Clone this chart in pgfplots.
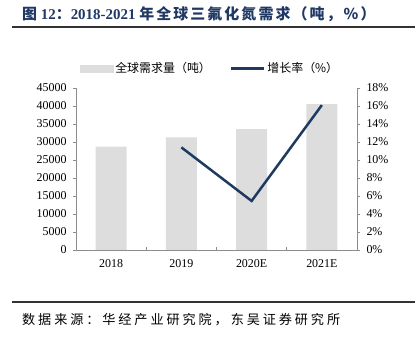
\documentclass[border=0pt]{standalone}
\usepackage{fontspec}
\setmainfont{Liberation Serif}
\newfontfamily\cjk{Noto Sans CJK SC}
\newfontfamily\cjksp[LetterSpace=22]{Noto Sans CJK SC}
\newfontfamily\cjkt[LetterSpace=14]{Noto Sans CJK SC}
\usepackage{pgfplots}
\pgfplotsset{compat=1.18}
\definecolor{titlec}{HTML}{1F3864}
\definecolor{barc}{HTML}{DDDDDD}
\definecolor{linec}{HTML}{1F3A60}
\definecolor{axc}{HTML}{8C8C8C}
\begin{document}
\begin{tikzpicture}[x=1bp,y=1bp]
\path[use as bounding box] (0,0) rectangle (418,338);
\node[anchor=west, inner sep=0, text=titlec, font=\bfseries\fontsize{15}{15}\selectfont] at (22,324) {{\cjkt 图} 12{\cjkt ：}2018-2021 {\cjkt 年全球三氟化氮需求（吨，\%）}};
\draw[line width=1.5bp, black!80] (12,311) -- (415,311);
\draw[line width=1.2bp, black!80] (12,36) -- (415,36);
\node[anchor=west, inner sep=0, font=\fontsize{13.2}{13.2}\selectfont] at (22,18) {\cjksp 数据来源：华经产业研究院，东吴证券研究所};

\begin{axis}[at={(76bp,88bp)}, anchor=south west, width=281bp, height=162bp, scale only axis,
  xmin=-0.5, xmax=3.5, ymin=0, ymax=45000,
  axis x line*=bottom, axis y line*=left,
  axis line style={draw=axc, line width=0.6bp},
  tick align=outside, tick style={draw=axc, line width=0.6bp}, major tick length=3bp, minor tick length=3bp,
  xtick={0,1,2,3}, xticklabels={2018,2019,2020E,2021E},
  major x tick style={draw=none},
  minor xtick={0.5,1.5,2.5}, minor x tick style={yshift=3bp},
  scaled y ticks=false,
  ytick={0,5000,...,45000},
  yticklabels={0,5000,10000,15000,20000,25000,30000,35000,40000,45000},
  ticklabel style={font=\fontsize{12}{12}\selectfont},
  yticklabel style={xshift=-3bp},
  xticklabel style={yshift=-3bp},
]
\addplot[ybar, fill=barc, draw=none, bar width=31bp] coordinates {(0,28700) (1,31300) (2,33600) (3,40500)};
\end{axis}

\begin{axis}[at={(76bp,88bp)}, anchor=south west, width=281bp, height=162bp, scale only axis,
  xmin=-0.5, xmax=3.5, ymin=0, ymax=18,
  axis x line=none, axis y line*=right,
  axis line style={draw=axc, line width=0.6bp},
  tick align=outside, tick style={draw=axc, line width=0.6bp}, major tick length=3bp,
  ytick={0,2,...,18},
  yticklabels={0\%,2\%,4\%,6\%,8\%,10\%,12\%,14\%,16\%,18\%},
  ticklabel style={font=\fontsize{12}{12}\selectfont},
  yticklabel style={xshift=3bp},
  legend style={at={(0.477,1.12)}, anchor=center, draw=none, fill=none, legend columns=2,
    font=\cjk\fontsize{12}{14}\selectfont, inner sep=0pt,
    /tikz/every even column/.append style={column sep=17bp}},
]
\addlegendimage{legend image code/.code={\fill[barc] (0bp,-3.5bp) rectangle (33bp,3.5bp);}}
\addlegendentry{全球需求量（吨）}
\addplot[linec, line width=2.5bp, legend image code/.code={\draw[linec, line width=2.5bp] (0bp,0bp) -- (33bp,0bp);}] coordinates {(1,11.4) (2,5.45) (3,16.1)};
\addlegendentry{增长率（\%）}
\end{axis}
\end{tikzpicture}
\end{document}
